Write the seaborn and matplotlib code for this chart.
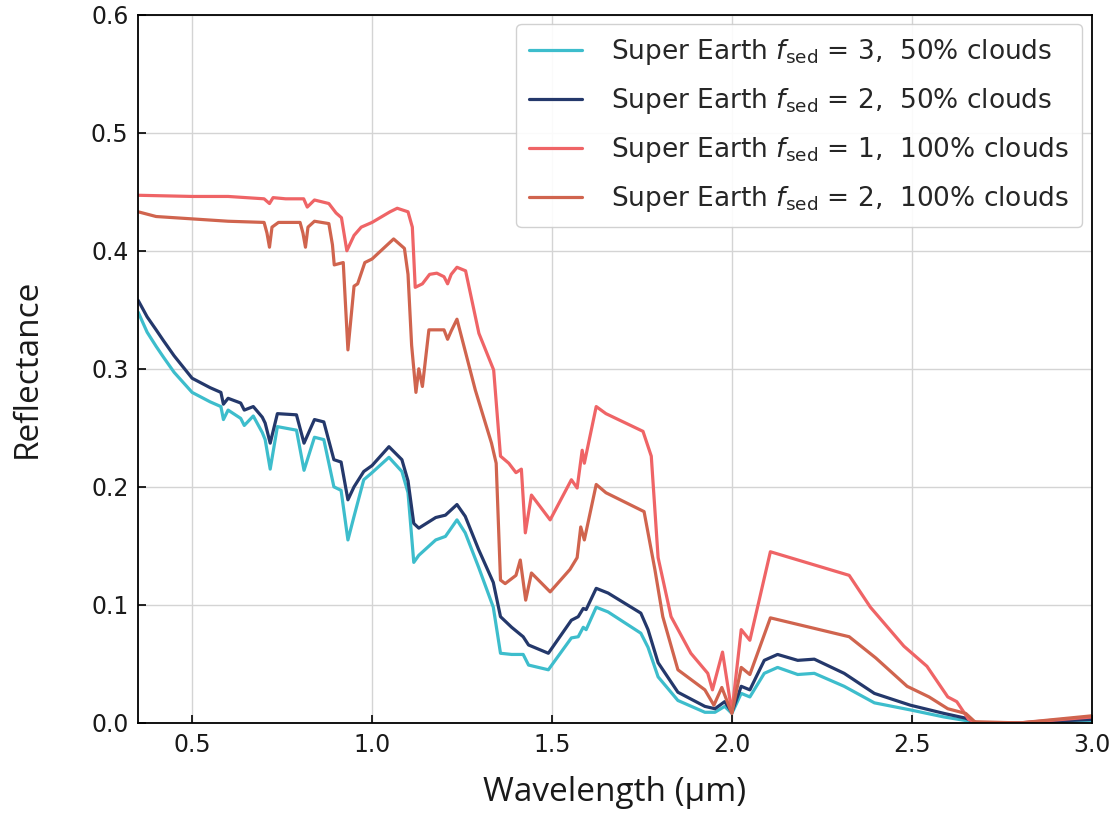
import numpy as np
import pandas as pd
import matplotlib
matplotlib.use("Agg")
import matplotlib.pyplot as plt
import seaborn as sns

# ---------------- data ----------------
labels = [
    r"Super Earth $f_{\mathrm{sed}}$ = 3,  50% clouds",
    r"Super Earth $f_{\mathrm{sed}}$ = 2,  50% clouds",
    r"Super Earth $f_{\mathrm{sed}}$ = 1,  100% clouds",
    r"Super Earth $f_{\mathrm{sed}}$ = 2,  100% clouds",
]
colors = ["#3DBDCC", "#24386B", "#EF6466", "#D0644E"]

wl_50 = [0.35, 0.375, 0.40, 0.42, 0.45, 0.50, 0.55, 0.58, 0.587, 0.60, 0.635, 0.645,
         0.67, 0.695, 0.703, 0.717, 0.737, 0.79, 0.811, 0.84, 0.866, 0.894,
         0.914, 0.933, 0.95, 0.977, 1.0, 1.047, 1.083, 1.10, 1.116, 1.13,
         1.177, 1.204, 1.236, 1.259, 1.296, 1.337, 1.357, 1.388, 1.42, 1.435,
         1.49, 1.554, 1.573, 1.587, 1.595, 1.623, 1.656, 1.747, 1.767, 1.795,
         1.85, 1.925, 1.953, 1.98, 2.0, 2.026, 2.05, 2.09, 2.127, 2.183,
         2.229, 2.312, 2.396, 2.496, 2.59, 2.65, 2.68, 2.8, 3.0]
refl_f3_50 = [0.348, 0.331, 0.319, 0.310, 0.297, 0.280, 0.272, 0.268, 0.257, 0.265, 0.258, 0.252,
              0.260, 0.246, 0.240, 0.215, 0.251, 0.248, 0.214, 0.242, 0.240, 0.200,
              0.197, 0.155, 0.175, 0.206, 0.212, 0.225, 0.213, 0.195, 0.136, 0.142,
              0.155, 0.158, 0.172, 0.161, 0.132, 0.098, 0.059, 0.058, 0.058, 0.049,
              0.045, 0.072, 0.073, 0.081, 0.079, 0.098, 0.094, 0.076, 0.064, 0.039,
              0.019, 0.009, 0.009, 0.014, 0.008, 0.025, 0.022, 0.042, 0.047, 0.041,
              0.042, 0.031, 0.017, 0.011, 0.005, 0.002, 0.0, 0.0, 0.002]
refl_f2_50 = [0.358, 0.344, 0.333, 0.324, 0.311, 0.292, 0.284, 0.280, 0.270, 0.275, 0.271, 0.265,
              0.268, 0.259, 0.254, 0.237, 0.262, 0.261, 0.237, 0.257, 0.255, 0.223,
              0.221, 0.189, 0.200, 0.213, 0.218, 0.234, 0.223, 0.205, 0.169, 0.165,
              0.174, 0.176, 0.185, 0.175, 0.147, 0.119, 0.090, 0.081, 0.073, 0.066,
              0.059, 0.087, 0.090, 0.097, 0.096, 0.114, 0.110, 0.093, 0.079, 0.051,
              0.026, 0.014, 0.012, 0.018, 0.009, 0.031, 0.028, 0.053, 0.058, 0.053,
              0.054, 0.042, 0.025, 0.015, 0.008, 0.004, 0.0, 0.0, 0.003]

wl_f1_100 = [0.35, 0.50, 0.60, 0.70, 0.715, 0.725, 0.76, 0.81, 0.82, 0.84,
             0.88, 0.90, 0.915, 0.93, 0.95, 0.97, 1.00, 1.05, 1.07, 1.10,
             1.112, 1.12, 1.14, 1.16, 1.18, 1.20, 1.21, 1.22, 1.236, 1.26,
             1.297, 1.338, 1.357, 1.38, 1.40, 1.415, 1.426, 1.443, 1.495, 1.554,
             1.57, 1.584, 1.59, 1.623, 1.65, 1.753, 1.776, 1.795, 1.831, 1.886,
             1.933, 1.946, 1.974, 2.0, 2.026, 2.05, 2.107, 2.326, 2.385, 2.478,
             2.542, 2.60, 2.625, 2.658, 2.68, 2.80, 3.0]
refl_f1_100 = [0.447, 0.446, 0.446, 0.444, 0.440, 0.445, 0.444, 0.444, 0.437, 0.443,
               0.440, 0.432, 0.428, 0.400, 0.413, 0.420, 0.424, 0.433, 0.436, 0.433,
               0.420, 0.369, 0.372, 0.380, 0.381, 0.378, 0.372, 0.380, 0.386, 0.383,
               0.330, 0.299, 0.226, 0.220, 0.212, 0.215, 0.161, 0.193, 0.172, 0.206,
               0.199, 0.231, 0.220, 0.268, 0.262, 0.247, 0.226, 0.140, 0.090, 0.059,
               0.042, 0.028, 0.060, 0.009, 0.079, 0.070, 0.145, 0.125, 0.098, 0.065,
               0.048, 0.022, 0.018, 0.003, 0.0, 0.0, 0.005]

wl_f2_100 = [0.35, 0.40, 0.50, 0.60, 0.70, 0.708, 0.715, 0.722, 0.74, 0.80,
             0.808, 0.815, 0.822, 0.84, 0.88, 0.89, 0.895, 0.92, 0.933, 0.95,
             0.96, 0.98, 1.00, 1.06, 1.09, 1.10, 1.11, 1.122, 1.13, 1.14,
             1.158, 1.20, 1.21, 1.22, 1.236, 1.287, 1.332, 1.345, 1.357, 1.37,
             1.40, 1.412, 1.427, 1.443, 1.495, 1.55, 1.57, 1.58, 1.59, 1.623,
             1.65, 1.756, 1.786, 1.808, 1.85, 1.925, 1.95, 1.972, 2.0, 2.026,
             2.05, 2.107, 2.326, 2.40, 2.487, 2.548, 2.60, 2.65, 2.675, 2.8,
             3.0]
refl_f2_100 = [0.433, 0.429, 0.427, 0.425, 0.424, 0.415, 0.403, 0.420, 0.424, 0.424,
               0.415, 0.403, 0.420, 0.425, 0.423, 0.405, 0.388, 0.390, 0.316, 0.370,
               0.372, 0.390, 0.393, 0.410, 0.402, 0.380, 0.320, 0.280, 0.300, 0.285,
               0.333, 0.333, 0.325, 0.332, 0.342, 0.282, 0.237, 0.220, 0.121, 0.118,
               0.125, 0.138, 0.104, 0.127, 0.111, 0.130, 0.140, 0.166, 0.155, 0.202,
               0.195, 0.179, 0.130, 0.090, 0.045, 0.028, 0.015, 0.030, 0.008, 0.047,
               0.041, 0.089, 0.073, 0.055, 0.031, 0.022, 0.012, 0.008, 0.001, 0.0,
               0.006]

xticks = [0.5, 1.0, 1.5, 2.0, 2.5, 3.0]
yticks = [0.0, 0.1, 0.2, 0.3, 0.4, 0.5, 0.6]

# ---------------- build frame ----------------
frames = []
for lab, wl, rf in zip(labels,
                       [wl_50, wl_50, wl_f1_100, wl_f2_100],
                       [refl_f3_50, refl_f2_50, refl_f1_100, refl_f2_100]):
    frames.append(pd.DataFrame({"wl": wl, "refl": rf, "series": lab}))
df = pd.concat(frames, ignore_index=True)

# ---------------- plot ----------------
sns.set_theme(style="white")
plt.rcParams["font.family"] = ["DejaVu Sans"]
plt.rcParams["mathtext.fontset"] = "dejavusans"

fig, ax = plt.subplots(figsize=(11.14, 8.15), dpi=100)
fig.subplots_adjust(left=0.124, right=0.980, top=0.982, bottom=0.113)

sns.lineplot(data=df, x="wl", y="refl", hue="series", hue_order=labels,
             palette=colors, estimator=None, sort=False, linewidth=2.3, ax=ax)

ax.set_xlim(0.35, 3.0)
ax.set_ylim(0.0, 0.6)
ax.set_xticks(xticks)
ax.set_yticks(yticks)
ax.set_xticklabels([f"{v:.1f}" for v in xticks])
ax.set_yticklabels([f"{v:.1f}" for v in yticks])
ax.grid(True, color="#d4d4d4", linewidth=1.0)
ax.set_axisbelow(True)
for s in ax.spines.values():
    s.set_color("black")
    s.set_linewidth(1.3)
ax.tick_params(axis="both", direction="in", length=6, width=1.2,
               labelsize=17, pad=7, colors="black", labelcolor="#1a1a1a",
               bottom=True, left=True)

ax.set_xlabel("Wavelength (μm)", fontsize=24, family=["Open Sans", "DejaVu Sans"],
              color="#1a1a1a", labelpad=14)
ax.set_ylabel("Reflectance", fontsize=24, family=["Open Sans", "DejaVu Sans"],
              color="#1a1a1a", labelpad=34)

leg = ax.legend(loc="upper right", fontsize=19, handlelength=2.0,
                borderaxespad=0.35, labelspacing=0.72, handletextpad=1.1,
                borderpad=0.5, frameon=True, fancybox=True, framealpha=0.9,
                edgecolor="#cccccc")
for line in leg.get_lines():
    line.set_linewidth(2.3)

fig.savefig("out.png", dpi=100)
